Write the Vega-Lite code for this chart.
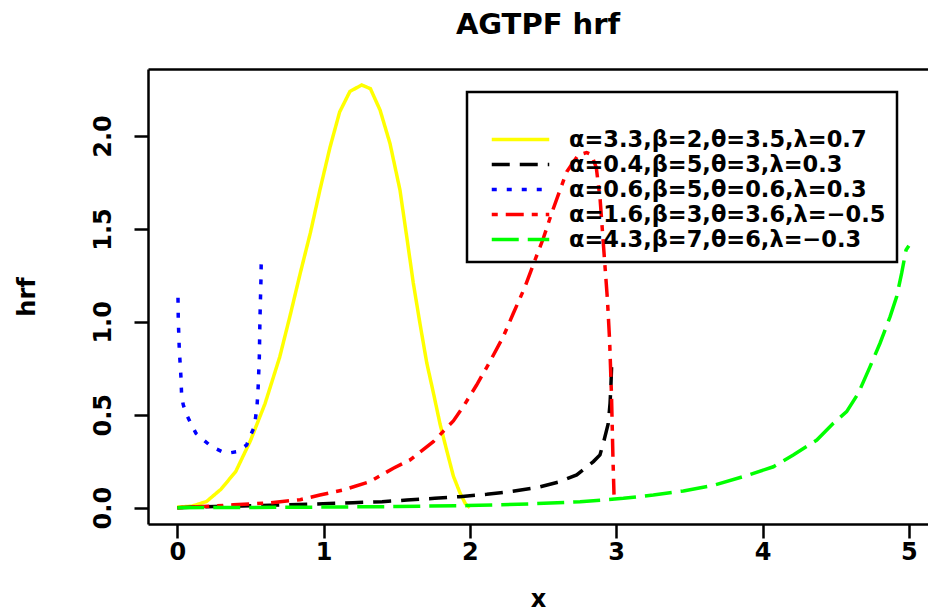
{
  "$schema": "https://vega.github.io/schema/vega-lite/v6.json",
  "autosize": "none",
  "padding": {"left": 148, "top": 69, "right": 0, "bottom": 91},
  "width": 780,
  "height": 455,
  "background": "white",
  "config": {
    "view": {"stroke": null},
    "font": "DejaVu Sans",
    "axis": {"grid": false, "domainColor": "black", "domainWidth": 2.5, "tickColor": "black", "tickWidth": 2.5, "tickSize": 14, "labelColor": "black", "labelFont": "DejaVu Sans", "labelFontWeight": "bold", "labelFontSize": 24, "titleColor": "black", "titleFont": "DejaVu Sans", "titleFontWeight": "bold", "titleFontSize": 24, "labelOverlap": false, "labelFlush": false}
  },
  "title": {"text": "AGTPF hrf", "font": "DejaVu Sans", "fontSize": 29, "fontWeight": "bold", "color": "black", "anchor": "middle", "frame": "group", "baseline": "alphabetic", "offset": 6},
  "data": {"values": [
    {"s": "α=3.3,β=2,θ=3.5,λ=0.7", "x": 0, "y": 0.003},
    {"s": "α=3.3,β=2,θ=3.5,λ=0.7", "x": 0.1, "y": 0.008},
    {"s": "α=3.3,β=2,θ=3.5,λ=0.7", "x": 0.2, "y": 0.033},
    {"s": "α=3.3,β=2,θ=3.5,λ=0.7", "x": 0.3, "y": 0.1},
    {"s": "α=3.3,β=2,θ=3.5,λ=0.7", "x": 0.4, "y": 0.195},
    {"s": "α=3.3,β=2,θ=3.5,λ=0.7", "x": 0.5, "y": 0.36},
    {"s": "α=3.3,β=2,θ=3.5,λ=0.7", "x": 0.6, "y": 0.56},
    {"s": "α=3.3,β=2,θ=3.5,λ=0.7", "x": 0.7, "y": 0.81},
    {"s": "α=3.3,β=2,θ=3.5,λ=0.7", "x": 0.77, "y": 1.03},
    {"s": "α=3.3,β=2,θ=3.5,λ=0.7", "x": 0.84, "y": 1.26},
    {"s": "α=3.3,β=2,θ=3.5,λ=0.7", "x": 0.91, "y": 1.48},
    {"s": "α=3.3,β=2,θ=3.5,λ=0.7", "x": 0.975, "y": 1.71},
    {"s": "α=3.3,β=2,θ=3.5,λ=0.7", "x": 1.044, "y": 1.94},
    {"s": "α=3.3,β=2,θ=3.5,λ=0.7", "x": 1.11, "y": 2.13},
    {"s": "α=3.3,β=2,θ=3.5,λ=0.7", "x": 1.18, "y": 2.24},
    {"s": "α=3.3,β=2,θ=3.5,λ=0.7", "x": 1.26, "y": 2.275},
    {"s": "α=3.3,β=2,θ=3.5,λ=0.7", "x": 1.32, "y": 2.255},
    {"s": "α=3.3,β=2,θ=3.5,λ=0.7", "x": 1.386, "y": 2.14},
    {"s": "α=3.3,β=2,θ=3.5,λ=0.7", "x": 1.454, "y": 1.96},
    {"s": "α=3.3,β=2,θ=3.5,λ=0.7", "x": 1.522, "y": 1.71},
    {"s": "α=3.3,β=2,θ=3.5,λ=0.7", "x": 1.568, "y": 1.46},
    {"s": "α=3.3,β=2,θ=3.5,λ=0.7", "x": 1.613, "y": 1.21},
    {"s": "α=3.3,β=2,θ=3.5,λ=0.7", "x": 1.659, "y": 0.99},
    {"s": "α=3.3,β=2,θ=3.5,λ=0.7", "x": 1.705, "y": 0.78},
    {"s": "α=3.3,β=2,θ=3.5,λ=0.7", "x": 1.75, "y": 0.62},
    {"s": "α=3.3,β=2,θ=3.5,λ=0.7", "x": 1.796, "y": 0.45},
    {"s": "α=3.3,β=2,θ=3.5,λ=0.7", "x": 1.841, "y": 0.31},
    {"s": "α=3.3,β=2,θ=3.5,λ=0.7", "x": 1.887, "y": 0.17},
    {"s": "α=3.3,β=2,θ=3.5,λ=0.7", "x": 1.932, "y": 0.08},
    {"s": "α=3.3,β=2,θ=3.5,λ=0.7", "x": 1.97, "y": 0.02},
    {"s": "α=3.3,β=2,θ=3.5,λ=0.7", "x": 2.0, "y": 0.0},

    {"s": "α=0.4,β=5,θ=3,λ=0.3", "x": 0, "y": 0.0},
    {"s": "α=0.4,β=5,θ=3,λ=0.3", "x": 0.2, "y": 0.005},
    {"s": "α=0.4,β=5,θ=3,λ=0.3", "x": 0.5, "y": 0.01},
    {"s": "α=0.4,β=5,θ=3,λ=0.3", "x": 0.9, "y": 0.018},
    {"s": "α=0.4,β=5,θ=3,λ=0.3", "x": 1.2, "y": 0.027},
    {"s": "α=0.4,β=5,θ=3,λ=0.3", "x": 1.4, "y": 0.032},
    {"s": "α=0.4,β=5,θ=3,λ=0.3", "x": 1.57, "y": 0.041},
    {"s": "α=0.4,β=5,θ=3,λ=0.3", "x": 1.76, "y": 0.05},
    {"s": "α=0.4,β=5,θ=3,λ=0.3", "x": 1.93, "y": 0.059},
    {"s": "α=0.4,β=5,θ=3,λ=0.3", "x": 2.115, "y": 0.072},
    {"s": "α=0.4,β=5,θ=3,λ=0.3", "x": 2.274, "y": 0.086},
    {"s": "α=0.4,β=5,θ=3,λ=0.3", "x": 2.457, "y": 0.108},
    {"s": "α=0.4,β=5,θ=3,λ=0.3", "x": 2.604, "y": 0.137},
    {"s": "α=0.4,β=5,θ=3,λ=0.3", "x": 2.73, "y": 0.176},
    {"s": "α=0.4,β=5,θ=3,λ=0.3", "x": 2.844, "y": 0.248},
    {"s": "α=0.4,β=5,θ=3,λ=0.3", "x": 2.889, "y": 0.284},
    {"s": "α=0.4,β=5,θ=3,λ=0.3", "x": 2.912, "y": 0.347},
    {"s": "α=0.4,β=5,θ=3,λ=0.3", "x": 2.946, "y": 0.454},
    {"s": "α=0.4,β=5,θ=3,λ=0.3", "x": 2.958, "y": 0.562},
    {"s": "α=0.4,β=5,θ=3,λ=0.3", "x": 2.964, "y": 0.66},
    {"s": "α=0.4,β=5,θ=3,λ=0.3", "x": 2.97, "y": 0.79},

    {"s": "α=0.6,β=5,θ=0.6,λ=0.3", "x": 0.005, "y": 1.13},
    {"s": "α=0.6,β=5,θ=0.6,λ=0.3", "x": 0.007, "y": 1.01},
    {"s": "α=0.6,β=5,θ=0.6,λ=0.3", "x": 0.014, "y": 0.85},
    {"s": "α=0.6,β=5,θ=0.6,λ=0.3", "x": 0.025, "y": 0.705},
    {"s": "α=0.6,β=5,θ=0.6,λ=0.3", "x": 0.03, "y": 0.6},
    {"s": "α=0.6,β=5,θ=0.6,λ=0.3", "x": 0.041, "y": 0.553},
    {"s": "α=0.6,β=5,θ=0.6,λ=0.3", "x": 0.068, "y": 0.494},
    {"s": "α=0.6,β=5,θ=0.6,λ=0.3", "x": 0.098, "y": 0.445},
    {"s": "α=0.6,β=5,θ=0.6,λ=0.3", "x": 0.128, "y": 0.4},
    {"s": "α=0.6,β=5,θ=0.6,λ=0.3", "x": 0.185, "y": 0.361},
    {"s": "α=0.6,β=5,θ=0.6,λ=0.3", "x": 0.235, "y": 0.328},
    {"s": "α=0.6,β=5,θ=0.6,λ=0.3", "x": 0.308, "y": 0.301},
    {"s": "α=0.6,β=5,θ=0.6,λ=0.3", "x": 0.36, "y": 0.295},
    {"s": "α=0.6,β=5,θ=0.6,λ=0.3", "x": 0.406, "y": 0.301},
    {"s": "α=0.6,β=5,θ=0.6,λ=0.3", "x": 0.474, "y": 0.337},
    {"s": "α=0.6,β=5,θ=0.6,λ=0.3", "x": 0.497, "y": 0.382},
    {"s": "α=0.6,β=5,θ=0.6,λ=0.3", "x": 0.527, "y": 0.436},
    {"s": "α=0.6,β=5,θ=0.6,λ=0.3", "x": 0.545, "y": 0.544},
    {"s": "α=0.6,β=5,θ=0.6,λ=0.3", "x": 0.553, "y": 0.651},
    {"s": "α=0.6,β=5,θ=0.6,λ=0.3", "x": 0.561, "y": 0.813},
    {"s": "α=0.6,β=5,θ=0.6,λ=0.3", "x": 0.565, "y": 1.01},
    {"s": "α=0.6,β=5,θ=0.6,λ=0.3", "x": 0.572, "y": 1.226},
    {"s": "α=0.6,β=5,θ=0.6,λ=0.3", "x": 0.574, "y": 1.33},

    {"s": "α=1.6,β=3,θ=3.6,λ=−0.5", "x": 0, "y": 0.0},
    {"s": "α=1.6,β=3,θ=3.6,λ=−0.5", "x": 0.178, "y": 0.006},
    {"s": "α=1.6,β=3,θ=3.6,λ=−0.5", "x": 0.383, "y": 0.015},
    {"s": "α=1.6,β=3,θ=3.6,λ=−0.5", "x": 0.634, "y": 0.026},
    {"s": "α=1.6,β=3,θ=3.6,λ=−0.5", "x": 0.84, "y": 0.043},
    {"s": "α=1.6,β=3,θ=3.6,λ=−0.5", "x": 0.975, "y": 0.068},
    {"s": "α=1.6,β=3,θ=3.6,λ=−0.5", "x": 1.135, "y": 0.095},
    {"s": "α=1.6,β=3,θ=3.6,λ=−0.5", "x": 1.317, "y": 0.14},
    {"s": "α=1.6,β=3,θ=3.6,λ=−0.5", "x": 1.477, "y": 0.212},
    {"s": "α=1.6,β=3,θ=3.6,λ=−0.5", "x": 1.591, "y": 0.257},
    {"s": "α=1.6,β=3,θ=3.6,λ=−0.5", "x": 1.75, "y": 0.355},
    {"s": "α=1.6,β=3,θ=3.6,λ=−0.5", "x": 1.887, "y": 0.467},
    {"s": "α=1.6,β=3,θ=3.6,λ=−0.5", "x": 1.955, "y": 0.544},
    {"s": "α=1.6,β=3,θ=3.6,λ=−0.5", "x": 2.046, "y": 0.66},
    {"s": "α=1.6,β=3,θ=3.6,λ=−0.5", "x": 2.137, "y": 0.786},
    {"s": "α=1.6,β=3,θ=3.6,λ=−0.5", "x": 2.228, "y": 0.92},
    {"s": "α=1.6,β=3,θ=3.6,λ=−0.5", "x": 2.297, "y": 1.046},
    {"s": "α=1.6,β=3,θ=3.6,λ=−0.5", "x": 2.377, "y": 1.189},
    {"s": "α=1.6,β=3,θ=3.6,λ=−0.5", "x": 2.445, "y": 1.333},
    {"s": "α=1.6,β=3,θ=3.6,λ=−0.5", "x": 2.502, "y": 1.45},
    {"s": "α=1.6,β=3,θ=3.6,λ=−0.5", "x": 2.559, "y": 1.585},
    {"s": "α=1.6,β=3,θ=3.6,λ=−0.5", "x": 2.616, "y": 1.71},
    {"s": "α=1.6,β=3,θ=3.6,λ=−0.5", "x": 2.662, "y": 1.808},
    {"s": "α=1.6,β=3,θ=3.6,λ=−0.5", "x": 2.741, "y": 1.898},
    {"s": "α=1.6,β=3,θ=3.6,λ=−0.5", "x": 2.798, "y": 1.911},
    {"s": "α=1.6,β=3,θ=3.6,λ=−0.5", "x": 2.83, "y": 1.9},
    {"s": "α=1.6,β=3,θ=3.6,λ=−0.5", "x": 2.864, "y": 1.83},
    {"s": "α=1.6,β=3,θ=3.6,λ=−0.5", "x": 2.89, "y": 1.66},
    {"s": "α=1.6,β=3,θ=3.6,λ=−0.5", "x": 2.915, "y": 1.39},
    {"s": "α=1.6,β=3,θ=3.6,λ=−0.5", "x": 2.94, "y": 1.12},
    {"s": "α=1.6,β=3,θ=3.6,λ=−0.5", "x": 2.955, "y": 0.9},
    {"s": "α=1.6,β=3,θ=3.6,λ=−0.5", "x": 2.968, "y": 0.6},
    {"s": "α=1.6,β=3,θ=3.6,λ=−0.5", "x": 2.978, "y": 0.26},
    {"s": "α=1.6,β=3,θ=3.6,λ=−0.5", "x": 2.985, "y": 0.07},

    {"s": "α=4.3,β=7,θ=6,λ=−0.3", "x": 0, "y": 0.0},
    {"s": "α=4.3,β=7,θ=6,λ=−0.3", "x": 0.5, "y": 0.001},
    {"s": "α=4.3,β=7,θ=6,λ=−0.3", "x": 1.0, "y": 0.003},
    {"s": "α=4.3,β=7,θ=6,λ=−0.3", "x": 1.5, "y": 0.006},
    {"s": "α=4.3,β=7,θ=6,λ=−0.3", "x": 1.978, "y": 0.011},
    {"s": "α=4.3,β=7,θ=6,λ=−0.3", "x": 2.4, "y": 0.02},
    {"s": "α=4.3,β=7,θ=6,λ=−0.3", "x": 2.753, "y": 0.032},
    {"s": "α=4.3,β=7,θ=6,λ=−0.3", "x": 2.912, "y": 0.041},
    {"s": "α=4.3,β=7,θ=6,λ=−0.3", "x": 3.049, "y": 0.05},
    {"s": "α=4.3,β=7,θ=6,λ=−0.3", "x": 3.254, "y": 0.068},
    {"s": "α=4.3,β=7,θ=6,λ=−0.3", "x": 3.459, "y": 0.09},
    {"s": "α=4.3,β=7,θ=6,λ=−0.3", "x": 3.664, "y": 0.12},
    {"s": "α=4.3,β=7,θ=6,λ=−0.3", "x": 3.869, "y": 0.167},
    {"s": "α=4.3,β=7,θ=6,λ=−0.3", "x": 4.074, "y": 0.22},
    {"s": "α=4.3,β=7,θ=6,λ=−0.3", "x": 4.21, "y": 0.284},
    {"s": "α=4.3,β=7,θ=6,λ=−0.3", "x": 4.371, "y": 0.364},
    {"s": "α=4.3,β=7,θ=6,λ=−0.3", "x": 4.484, "y": 0.454},
    {"s": "α=4.3,β=7,θ=6,λ=−0.3", "x": 4.575, "y": 0.517},
    {"s": "α=4.3,β=7,θ=6,λ=−0.3", "x": 4.655, "y": 0.616},
    {"s": "α=4.3,β=7,θ=6,λ=−0.3", "x": 4.735, "y": 0.759},
    {"s": "α=4.3,β=7,θ=6,λ=−0.3", "x": 4.803, "y": 0.885},
    {"s": "α=4.3,β=7,θ=6,λ=−0.3", "x": 4.872, "y": 1.028},
    {"s": "α=4.3,β=7,θ=6,λ=−0.3", "x": 4.917, "y": 1.136},
    {"s": "α=4.3,β=7,θ=6,λ=−0.3", "x": 4.951, "y": 1.262},
    {"s": "α=4.3,β=7,θ=6,λ=−0.3", "x": 4.981, "y": 1.387},
    {"s": "α=4.3,β=7,θ=6,λ=−0.3", "x": 5.0, "y": 1.41}
  ]},
  "layer": [
    {
      "mark": {"type": "line", "strokeWidth": 3.5, "clip": true},
      "encoding": {
        "x": {"field": "x", "type": "quantitative", "scale": {"domain": [-0.2, 5.131], "nice": false, "zero": false},
              "axis": {"orient": "bottom", "values": [0, 1, 2, 3, 4, 5], "format": "d", "title": "x", "labelPadding": 2, "titlePadding": 23}},
        "y": {"field": "y", "type": "quantitative", "scale": {"domain": [-0.088, 2.361], "nice": false, "zero": false},
              "axis": {"orient": "left", "values": [0, 0.5, 1, 1.5, 2], "format": ".1f", "title": "hrf", "labelAngle": 270, "labelAlign": "center", "labelBaseline": "alphabetic", "labelPadding": 24, "titlePadding": 52}},
        "color": {"field": "s", "type": "nominal", "title": " ",
          "scale": {"domain": ["α=3.3,β=2,θ=3.5,λ=0.7", "α=0.4,β=5,θ=3,λ=0.3", "α=0.6,β=5,θ=0.6,λ=0.3", "α=1.6,β=3,θ=3.6,λ=−0.5", "α=4.3,β=7,θ=6,λ=−0.3"],
                    "range": ["#FFFF00", "#000000", "#0000FF", "#FF0000", "#00FF00"]},
          "legend": {"orient": "none", "legendX": 319, "legendY": 23, "direction": "vertical", "strokeColor": "black", "fillColor": null, "padding": 11, "symbolOffset": 29, "symbolType": "M-2.5,0H2.5", "symbolSize": 529, "symbolStrokeWidth": 3.5, "labelFont": "DejaVu Sans", "labelFontWeight": "bold", "labelFontSize": 22.5, "labelColor": "black", "labelOffset": 35, "labelLimit": 600, "rowPadding": 0, "titleFontSize": 20, "titlePadding": 3,
                     "encode": {"legend": {"update": {"strokeWidth": {"value": 2.5}}}}}},
        "strokeDash": {"field": "s", "type": "nominal", "title": " ",
          "scale": {"domain": ["α=3.3,β=2,θ=3.5,λ=0.7", "α=0.4,β=5,θ=3,λ=0.3", "α=0.6,β=5,θ=0.6,λ=0.3", "α=1.6,β=3,θ=3.6,λ=−0.5", "α=4.3,β=7,θ=6,λ=−0.3"],
                    "range": [[1, 0], [18, 10], [5, 10], [6, 8, 18, 8], [27, 9]]},
          "legend": {"orient": "none", "legendX": 319, "legendY": 23, "direction": "vertical", "strokeColor": "black", "fillColor": null, "padding": 11, "symbolOffset": 29, "symbolType": "M-2.5,0H2.5", "symbolSize": 529, "symbolStrokeWidth": 3.5, "labelFont": "DejaVu Sans", "labelFontWeight": "bold", "labelFontSize": 22.5, "labelColor": "black", "labelOffset": 35, "labelLimit": 600, "rowPadding": 0, "titleFontSize": 20, "titlePadding": 3,
                     "encode": {"legend": {"update": {"strokeWidth": {"value": 2.5}}}}}}
      }
    },
    {
      "mark": {"type": "line", "opacity": 0},
      "encoding": {
        "x": {"field": "x", "type": "quantitative", "axis": {"orient": "top", "labels": false, "ticks": false, "title": null, "domain": true}},
        "y": {"field": "y", "type": "quantitative"},
        "detail": {"field": "s", "type": "nominal"}
      }
    }
  ],
  "resolve": {"axis": {"x": "independent"}}
}
